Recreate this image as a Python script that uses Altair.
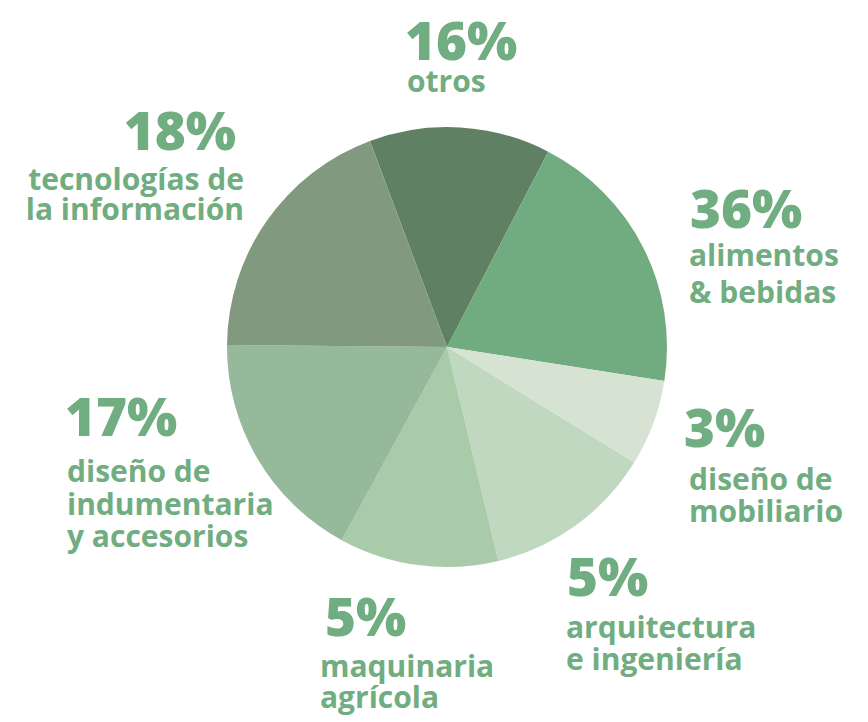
import altair as alt
import pandas as pd
import math

# ---- data ----
sectors = ["otros", "alimentos & bebidas", "diseño de mobiliario", "arquitectura e ingeniería",
           "maquinaria agrícola", "diseño de indumentaria y accesorios", "tecnologías de la información"]
percent_labels = [16, 36, 3, 5, 5, 17, 18]
# drawn slice sizes (degrees) as measured on the picture
slice_sizes = [47.9, 71.5, 22.8, 44.8, 42.1, 61.9, 69.0]
label_lines = [["otros"], ["alimentos", "& bebidas"], ["diseño de", "mobiliario"],
               ["arquitectura", "e ingeniería"], ["maquinaria", "agrícola"],
               ["diseño de", "indumentaria", "y accesorios"], ["tecnologías de", "la información"]]

# ---- styles / layout ----
colors = ["#5f8063", "#71ab80", "#d6e3d3", "#c1d8c0", "#a9cbaa", "#96b89b", "#81997f"]
text_color = "#70ad80"
PAD_L, PAD_T = 26, 0
W, H = 842, 694
start_angle = math.radians(339.5)

# anchor positions (page pixels) for the percentage and each text line
pct_pos = [(405, 60, "left"), (690, 228, "left"), (684, 447, "left"), (567, 596, "left"),
           (325, 636, "left"), (65, 436, "left"), (236, 150, "right")]
line_pos = [[(407, 92)], [(689, 266), (689, 303)], [(689, 490), (689, 522)],
            [(566, 638), (566, 670)], [(320, 677), (320, 708)],
            [(67, 482), (67, 515), (67, 547)], [(244, 190), (244, 220)]]
line_align = ["left", "left", "left", "left", "left", "left", "right"]

pie_df = pd.DataFrame({"sector": sectors, "size": slice_sizes, "order": list(range(len(sectors)))})

pie = alt.Chart(pie_df).mark_arc(outerRadius=220, innerRadius=0).encode(
    theta=alt.Theta("size:Q", stack=True,
                    scale=alt.Scale(range=[start_angle, start_angle + 2 * math.pi])),
    order=alt.Order("order:Q"),
    color=alt.Color("sector:N", scale=alt.Scale(domain=sectors, range=colors), legend=None),
)

pct_df = pd.DataFrame({
    "t": [f"{p}%" for p in percent_labels],
    "x": [p[0] - PAD_L for p in pct_pos],
    "y": [p[1] - PAD_T for p in pct_pos],
    "align": [p[2] for p in pct_pos],
})

rows = []
for lines, poss, al in zip(label_lines, line_pos, line_align):
    for ln, (x, y) in zip(lines, poss):
        rows.append({"t": ln, "x": x - PAD_L, "y": y - PAD_T, "align": al})
lab_df = pd.DataFrame(rows)

def text_layer(df, align, size, weight):
    return alt.Chart(df[df["align"] == align]).mark_text(
        align=align, baseline="alphabetic", font="Open Sans", fontSize=size,
        fontWeight=weight, color=text_color,
    ).encode(
        x=alt.X("x:Q", scale=None, axis=None),
        y=alt.Y("y:Q", scale=None, axis=None),
        text="t:N",
    )

layers = [pie]
for al in ["left", "right"]:
    layers.append(text_layer(pct_df, al, 53, 800))
    layers.append(text_layer(lab_df, al, 30, "bold"))

chart = alt.layer(*layers).properties(
    width=W, height=H,
    autosize=alt.AutoSizeParams(type="none"),
    padding={"left": PAD_L, "top": PAD_T, "right": 868 - W - PAD_L, "bottom": 722 - H - PAD_T},
    background="white",
).configure_view(stroke=None)

chart.save("out.html", embed_options={"renderer": "svg", "actions": False})
